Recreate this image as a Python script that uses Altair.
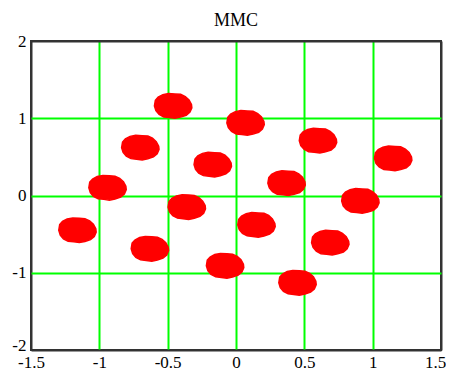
import altair as alt
import pandas as pd

# Cluster centres (in-phase, quadrature)
cx = [-0.46, 0.07, -0.70, 0.60, -0.17, 1.15, -0.94, 0.37,
      0.91, -0.36, 0.15, -1.16, -0.63, 0.69, -0.08, 0.45]
cy = [1.16, 0.94, 0.62, 0.71, 0.40, 0.48, 0.10, 0.16,
      -0.07, -0.15, -0.38, -0.45, -0.69, -0.61, -0.91, -1.13]

x_ticks = [-1.5, -1, -0.5, 0, 0.5, 1, 1.5]
y_ticks = [-2, -1, 0, 1, 2]

df = pd.DataFrame({"x": cx, "y": cy})

blob = ("M-1,0 L-0.95,-0.3 L-0.8,-0.47 L-0.55,-0.6 L-0.25,-0.66 L0.1,-0.64 "
        "L0.4,-0.62 L0.65,-0.5 L0.85,-0.32 L0.98,-0.08 L1,0.1 L0.9,0.33 L0.7,0.5 "
        "L0.4,0.6 L0.1,0.66 L-0.2,0.62 L-0.5,0.59 L-0.75,0.46 L-0.92,0.26 Z")

edge_x = {"condition": {"test": "abs(datum.value) == 1.5", "value": "#333333"},
          "value": "#00ff00"}
edge_y = {"condition": {"test": "abs(datum.value) == 2", "value": "#333333"},
          "value": "#00ff00"}
last_x = {"condition": {"test": "datum.value == 1.5", "value": -6}, "value": 0}
low_y = {"condition": {"test": "datum.value == -2", "value": -5}, "value": 0}

chart = alt.Chart(df).mark_point(
    shape=blob, filled=True, color="#ff0000", size=1400, opacity=1,
    stroke="#ff0000", strokeWidth=1.5
).encode(
    x=alt.X("x:Q", scale=alt.Scale(domain=[-1.5, 1.5], nice=False, zero=False),
            axis=alt.Axis(values=x_ticks, title=None, labelExpr="toString(datum.value)",
                          gridColor=edge_x, gridWidth=2, gridOpacity=1,
                          ticks=False, domain=False, labelPadding=4,
                          labelOffset=last_x,
                          labelFont="Liberation Serif", labelFontSize=17,
                          labelColor="#000000", labelFlush=False)),
    y=alt.Y("y:Q", scale=alt.Scale(domain=[-2, 2], nice=False, zero=False),
            axis=alt.Axis(values=y_ticks, title=None, labelExpr="toString(datum.value)",
                          gridColor=edge_y, gridWidth=2, gridOpacity=1,
                          ticks=False, domain=False, labelPadding=5,
                          labelOffset=low_y,
                          labelFont="Liberation Serif", labelFontSize=17,
                          labelColor="#000000", labelFlush=False)),
).properties(
    width=410, height=309,
    title=alt.TitleParams("MMC", font="Liberation Serif", fontSize=18,
                          fontWeight="normal", color="#000000", offset=2),
    autosize=alt.AutoSizeParams(type="none"),
    padding={"left": 23, "top": 33, "right": 5, "bottom": 20},
).configure_view(
    stroke="#333333", strokeWidth=2
)

chart.save("out.html", embed_options={"renderer": "svg", "actions": False})
